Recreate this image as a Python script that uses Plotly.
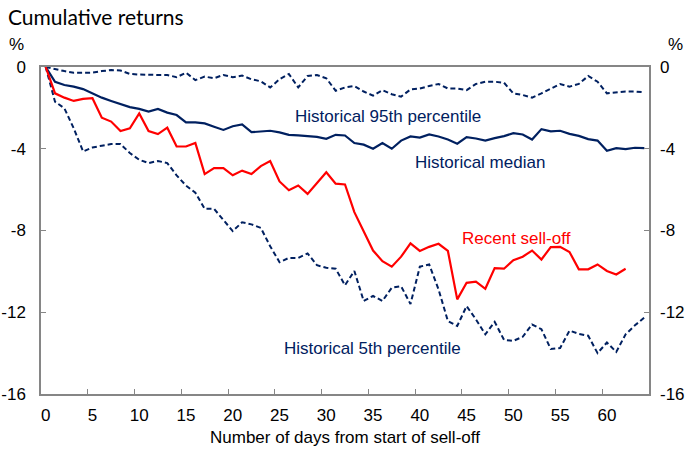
import plotly.graph_objects as go

days = list(range(65))
red_days = list(range(63))

p95 = [0, -0.11, -0.2, -0.28, -0.28, -0.28, -0.2, -0.15, -0.17, -0.34,
       -0.37, -0.39, -0.39, -0.39, -0.5, -0.28, -0.64, -0.47, -0.55, -0.39,
       -0.5, -0.42, -0.6, -0.7, -1.0, -0.6, -0.34, -1.0, -0.44, -0.39,
       -0.55, -1.16, -1.0, -0.93, -1.2, -1.4, -1.13, -1.33, -1.45, -1.1,
       -1.05, -0.93, -0.83, -1.05, -1.05, -1.13, -0.83, -0.72, -0.72, -0.77,
       -1.29, -1.37, -1.5, -1.29, -1.05, -0.83, -0.96, -0.83, -0.44, -0.72,
       -1.29, -1.24, -1.2, -1.2, -1.24]

median = [0, -0.72, -0.88, -0.96, -1.08, -1.29, -1.5, -1.66, -1.82, -1.96,
          -2.05, -2.18, -2.05, -2.23, -2.35, -2.71, -2.71, -2.76, -2.92, -3.08,
          -2.9, -2.81, -3.19, -3.15, -3.12, -3.2, -3.32, -3.35, -3.37, -3.42,
          -3.51, -3.32, -3.35, -3.72, -3.8, -4.0, -3.72, -4.0, -3.6, -3.4,
          -3.45, -3.3, -3.4, -3.55, -3.75, -3.43, -3.5, -3.6, -3.48, -3.38,
          -3.24, -3.3, -3.55, -3.04, -3.15, -3.12, -3.27, -3.37, -3.53, -3.6,
          -4.1, -3.97, -4.02, -3.95, -3.97]

p5 = [0, -1.7, -2.02, -3.0, -4.13, -3.94, -3.85, -3.77, -3.77, -4.21,
      -4.54, -4.7, -4.6, -4.7, -5.3, -5.8, -6.15, -6.94, -6.94, -7.46,
      -8.03, -7.6, -7.7, -7.87, -8.77, -9.55, -9.34, -9.34, -9.12, -9.7,
      -9.82, -9.87, -10.68, -9.98, -11.45, -11.2, -11.45, -10.8, -10.73, -11.6,
      -9.77, -9.66, -10.88, -12.43, -12.67, -11.7, -12.35, -13.08, -12.47, -13.35,
      -13.4, -13.2, -12.6, -12.83, -13.8, -13.75, -12.9, -13.06, -13.15, -14.0,
      -13.48, -13.94, -13.08, -12.64, -12.26]

recent = [0, -1.29, -1.5, -1.66, -1.56, -1.53, -2.48, -2.67, -3.13, -3.0,
          -2.27, -3.13, -3.28, -2.97, -3.89, -3.89, -3.72, -5.24, -4.95, -4.95,
          -5.3, -5.07, -5.24, -4.85, -4.6, -5.6, -6.03, -5.8, -6.21, -5.68,
          -5.15, -5.71, -5.75, -7.1, -8.03, -8.98, -9.5, -9.77, -9.28, -8.63,
          -9.0, -8.8, -8.65, -9.0, -11.37, -10.56, -10.5, -10.85, -9.84, -9.87,
          -9.45, -9.28, -8.98, -9.42, -8.81, -8.8, -9.05, -9.9, -9.9, -9.66,
          -9.98, -10.15, -9.87]

x_tickvals = list(range(0, 61, 5))
x_ticktext = [str(v) for v in x_tickvals]
x_boundaries = [v - 0.5 for v in range(5, 61, 5)]
y_tickvals = [0, -4, -8, -12, -16]
y_ticktext = ["0", "-4", "-8", "-12", "-16"]

NAVY = "#002060"
RED = "#FF0000"
GREY = "#868686"
FONT = "Arial, Liberation Sans, sans-serif"

fig = go.Figure()
fig.add_trace(go.Scatter(x=days, y=p95, mode="lines",
                         line=dict(color=NAVY, width=2, dash="5px,3px"), hoverinfo="skip"))
fig.add_trace(go.Scatter(x=days, y=p5, mode="lines",
                         line=dict(color=NAVY, width=2, dash="5px,3px"), hoverinfo="skip"))
fig.add_trace(go.Scatter(x=days, y=median, mode="lines",
                         line=dict(color=NAVY, width=2.2), hoverinfo="skip"))
fig.add_trace(go.Scatter(x=red_days, y=recent, mode="lines",
                         line=dict(color=RED, width=2.2), hoverinfo="skip"))
# invisible trace to activate the right-hand axis
fig.add_trace(go.Scatter(x=days, y=median, mode="lines", yaxis="y2",
                         line=dict(color=NAVY, width=0), opacity=0, hoverinfo="skip"))

axis_font = dict(family=FONT, size=17, color="#000000")

W, H = 689, 449
fig.update_layout(
    width=W, height=H,
    margin=dict(l=41, r=40, t=67, b=55, autoexpand=False),
    paper_bgcolor="white", plot_bgcolor="white",
    showlegend=False,
    title=dict(text="Cumulative returns", x=8 / W, xref="container", xanchor="left",
               y=1 - 18 / H, yref="container", yanchor="middle",
               font=dict(family="Lato, Open Sans, sans-serif", size=21, color="#000000")),
    xaxis=dict(range=[-0.5, 64.5], tickvals=x_tickvals, ticktext=x_ticktext,
               ticks="", showgrid=False, zeroline=False, automargin=False,
               showline=True, linecolor=GREY, linewidth=1.5, mirror=True,
               tickfont=axis_font, ticklabelstandoff=5,
               minor=dict(tickvals=x_boundaries, ticks="inside", ticklen=5,
                          tickcolor=GREY, tickwidth=1.2, showgrid=False)),
    yaxis=dict(range=[-16, 0], tickvals=y_tickvals, ticktext=y_ticktext,
               ticks="inside", ticklen=5, automargin=False,
               tickcolor=GREY, tickwidth=1.2, showgrid=False, zeroline=False,
               showline=True, linecolor=GREY, linewidth=1.5, mirror=True,
               tickfont=axis_font, ticklabelstandoff=10),
    yaxis2=dict(range=[-16, 0], tickvals=y_tickvals, ticktext=y_ticktext,
                ticks="inside", ticklen=5, automargin=False,
                tickcolor=GREY, tickwidth=1.2, showgrid=False, zeroline=False,
                overlaying="y", side="right", showline=False,
                tickfont=axis_font, ticklabelstandoff=10),
)

ann_font = dict(family=FONT, size=17, color=NAVY)
annotations = [
    dict(x=36.6, y=-2.4, text="Historical 95th percentile", font=ann_font),
    dict(x=46.4, y=-4.65, text="Historical median", font=ann_font),
    dict(x=50.3, y=-8.37, text="Recent sell-off", font=dict(family=FONT, size=17, color=RED)),
    dict(x=34.9, y=-13.75, text="Historical 5th percentile", font=ann_font),
]
for a in annotations:
    fig.add_annotation(xref="x", yref="y", showarrow=False, xanchor="center", yanchor="middle", **a)

fig.add_annotation(xref="paper", yref="paper", x=-0.04, y=1.07, text="%", showarrow=False,
                   xanchor="center", yanchor="middle", font=axis_font)
fig.add_annotation(xref="paper", yref="paper", x=1.043, y=1.07, text="%", showarrow=False,
                   xanchor="center", yanchor="middle", font=axis_font)
fig.add_annotation(xref="paper", yref="paper", x=0.5, y=-0.1315,
                   text="Number of days from start of sell-off", showarrow=False,
                   xanchor="center", yanchor="middle", font=axis_font)

# remove the browser's default 8px body margin so the figure sits at the page origin
fig.write_html("out.html", config={"displayModeBar": False},
               post_script="document.body.style.margin='0';")
